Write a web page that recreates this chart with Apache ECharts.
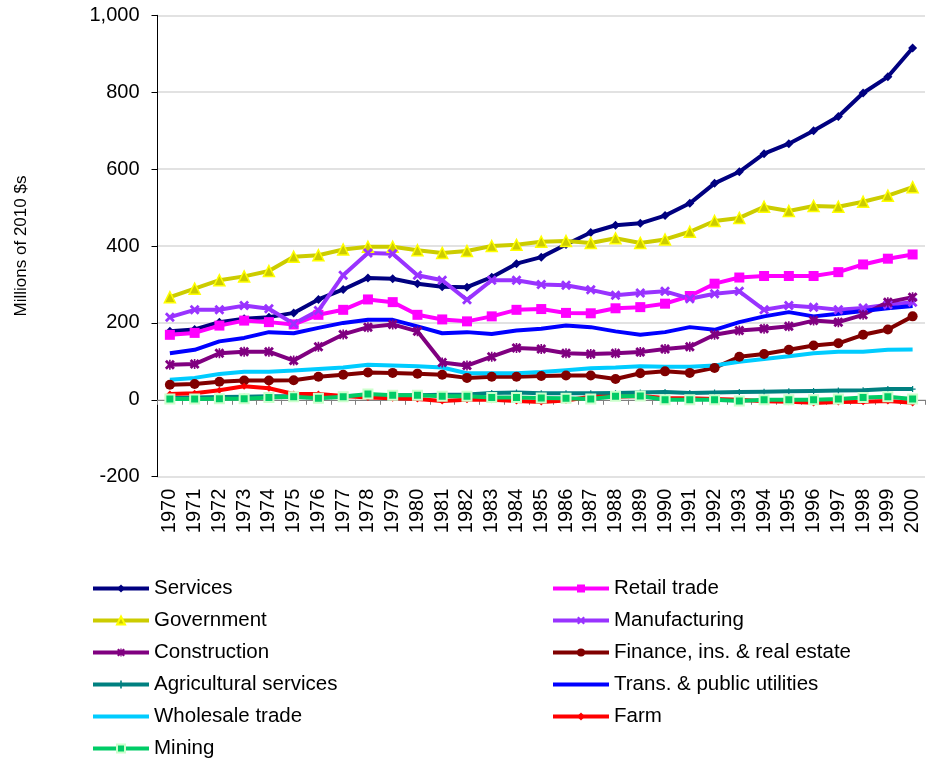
<!DOCTYPE html>
<html>
<head>
<meta charset="utf-8">
<script src="https://cdn.jsdelivr.net/npm/echarts@6/dist/echarts.min.js"></script>
<style>
html,body{margin:0;padding:0;background:#fff;}
#c{width:928px;height:759px;}
</style>
</head>
<body>
<div id="c"></div>
<script>
const years = ['1970','1971','1972','1973','1974','1975','1976','1977','1978','1979','1980','1981','1982','1983','1984','1985','1986','1987','1988','1989','1990','1991','1992','1993','1994','1995','1996','1997','1998','1999','2000'];
const services = [178,183,202,211,215,226,261,287,317,315,302,294,293,319,354,371,404,435,454,459,479,511,563,593,640,666,700,737,798,840,915];
const retail = [169,174,193,206,202,196,221,234,261,254,221,209,204,217,234,236,226,225,238,241,250,270,302,318,322,322,322,332,352,367,378];
const government = [267,289,311,321,335,372,376,391,398,398,389,382,387,400,403,411,413,408,420,408,417,437,465,473,502,491,504,502,515,531,553];
const manufacturing = [215,234,234,245,237,198,232,324,382,380,324,311,260,311,311,300,298,286,272,278,282,263,276,282,234,245,241,234,239,247,254];
const construction = [91,93,121,125,125,102,138,170,189,196,178,97,89,112,135,132,121,119,121,124,132,138,169,180,185,191,206,202,221,254,267];
const finance = [39,41,47,50,50,51,60,65,71,70,68,65,57,60,60,62,63,63,54,69,74,70,83,112,119,130,141,147,169,183,217];
const agricultural = [5,6,7,8,9,9,10,10,11,12,12,13,14,18,19,17,17,17,18,19,20,18,19,20,21,22,23,24,25,28,28];
const trans = [121,130,152,161,176,173,187,200,208,208,191,173,176,171,180,185,193,189,178,169,176,189,182,202,217,228,217,224,231,238,244];
const wholesale = [52,57,67,73,73,76,80,84,91,89,87,84,69,69,69,72,77,82,84,87,86,86,89,99,106,113,121,125,125,130,131];
const farm = [15,17,25,35,30,15,15,10,6,4,2,-3,0,0,-3,-6,-2,8,8,10,5,4,2,0,-4,-5,-8,-6,-5,-3,-8];
const mining = [2,2,3,3,6,8,4,8,15,12,12,9,9,6,6,5,4,2,9,10,0,0,0,-3,0,0,0,2,6,8,2];
const yTicks = {min: -200, max: 1000, step: 200};

const X_PATH = 'path://M0,2 L2,0 L5,3 L8,0 L10,2 L7,5 L10,8 L8,10 L5,7 L2,10 L0,8 L3,5 Z';
const STAR_PATH = 'path://M0,2 L2,0 L4.2,2.2 L4.2,0 L5.8,0 L5.8,2.2 L8,0 L10,2 L7,5 L10,8 L8,10 L5.8,7.8 L5.8,10 L4.2,10 L4.2,7.8 L2,10 L0,8 L3,5 Z';
const PLUS_PATH = 'path://M4,0 L6,0 L6,4 L10,4 L10,6 L6,6 L6,10 L4,10 L4,6 L0,6 L0,4 L4,4 Z';

function mk(name, data, color, symbol, size, extra) {
  return {
    name: name, type: 'line', data: data, xAxisIndex: 0,
    symbol: symbol, symbolSize: size, showSymbol: symbol !== 'none',
    lineStyle: {width: 4, color: color},
    itemStyle: Object.assign({color: color}, (extra && extra.item) || {}),
    emphasis: {disabled: true},
    animation: false
  };
}

const series = [
  mk('Services', services, '#000080', 'diamond', 9),
  mk('Retail trade', retail, '#FF00FF', 'rect', 10),
  mk('Government', government, '#CCCC00', 'triangle', 11, {item: {borderColor: '#FFFF00', borderWidth: 1.5}}),
  mk('Manufacturing', manufacturing, '#9933FF', X_PATH, 10),
  mk('Construction', construction, '#800080', STAR_PATH, 10),
  mk('Finance, ins. & real estate', finance, '#800000', 'circle', 10),
  mk('Agricultural services', agricultural, '#008080', PLUS_PATH, 6),
  mk('Trans. & public utilities', trans, '#0000FF', 'none', 0),
  mk('Wholesale trade', wholesale, '#00CCFF', 'none', 0),
  mk('Farm', farm, '#FF0000', 'diamond', 7),
  mk('Mining', mining, '#00CC66', 'rect', 9, {item: {borderColor: '#CCFFCC', borderWidth: 2}})
];

const legendText = {fontFamily: 'Liberation Sans, Arial, sans-serif', fontSize: 20.5, color: '#000', lineHeight: 20};
const legendBase = {
  orient: 'vertical', top: 578, itemWidth: 56, itemHeight: 10, itemGap: 11,
  textStyle: legendText, selectedMode: false, padding: 0,
  lineStyle: {width: 4}
};
const hideSym = {opacity: 0};

const chart = echarts.init(document.getElementById('c'));
chart.setOption({
  animation: false,
  backgroundColor: '#fff',
  grid: {left: 157.5, right: 3, top: 15.3, bottom: 282.3, containLabel: false},
  legend: [
    Object.assign({}, legendBase, {left: 91, data: ['Services','Government','Construction','Agricultural services',{name: 'Wholesale trade', itemStyle: hideSym}]}),
    Object.assign({}, legendBase, {left: 91, top: 738, data: ['Mining']}),
    Object.assign({}, legendBase, {left: 551, data: ['Retail trade','Manufacturing','Finance, ins. & real estate',{name: 'Trans. & public utilities', itemStyle: hideSym},'Farm']})
  ],
  xAxis: [
    {
      type: 'category', data: years, boundaryGap: true, position: 'bottom',
      axisLine: {show: false, onZero: false}, axisTick: {show: false},
      axisLabel: {rotate: 90, margin: 12, fontFamily: 'Liberation Sans, Arial, sans-serif', fontSize: 20, color: '#000', interval: 0},
      splitLine: {show: false}
    },
    {
      type: 'category', data: years, boundaryGap: true, position: 'bottom',
      axisLine: {show: true, onZero: true, lineStyle: {color: '#808080', width: 1}},
      axisTick: {show: true, length: 5, inside: false, lineStyle: {color: '#808080'}, interval: 0},
      axisLabel: {show: false}, splitLine: {show: false}
    }
  ],
  yAxis: {
    type: 'value', min: yTicks.min, max: yTicks.max, interval: yTicks.step,
    name: 'Millions of 2010 $s', nameLocation: 'middle', nameGap: 128, nameRotate: 90,
    nameTextStyle: {fontFamily: 'Liberation Sans, Arial, sans-serif', fontSize: 17, color: '#000'},
    axisLine: {show: true, lineStyle: {color: '#000', width: 1}},
    axisTick: {show: true, length: 6, lineStyle: {color: '#000'}},
    axisLabel: {margin: 18, fontFamily: 'Liberation Sans, Arial, sans-serif', fontSize: 20, color: '#000',
      formatter: function (v) { return v.toLocaleString('en-US'); }},
    splitLine: {show: true, lineStyle: {color: '#D9D9D9', width: 1.5}}
  },
  series: series
});
</script>
</body>
</html>
